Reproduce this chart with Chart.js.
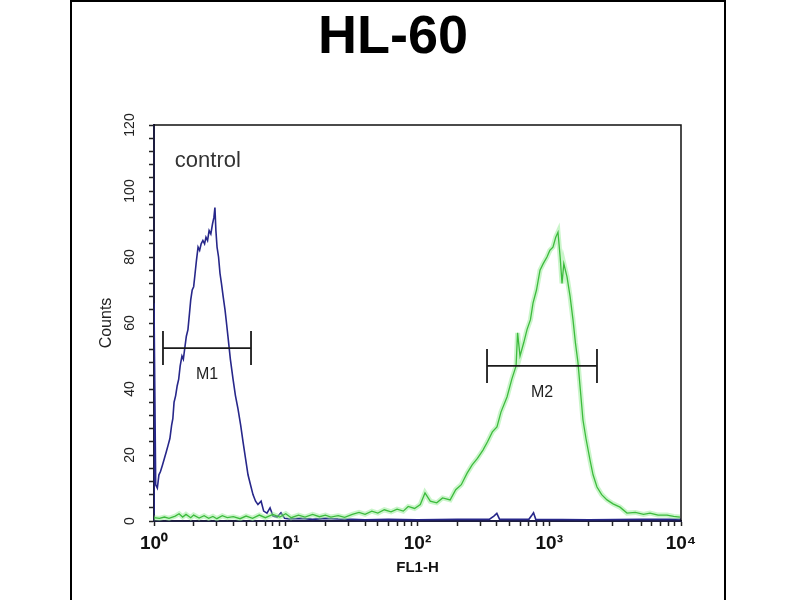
<!DOCTYPE html>
<html>
<head>
<meta charset="utf-8">
<title>HL-60</title>
<script src="https://cdn.jsdelivr.net/npm/chart.js@4.4.1/dist/chart.umd.min.js"></script>
<style>
  html, body { margin: 0; padding: 0; background: #fff; }
  #wrap { position: relative; width: 800px; height: 600px; }
</style>
</head>
<body>
<div id="wrap"><canvas id="hist" width="800" height="600"></canvas></div>
<script>
// control histogram (blue)
const controlX = [
  1, 1, 1.03, 1.06, 1.09, 1.12, 1.16, 1.2, 1.24, 1.28,
  1.32, 1.36, 1.39, 1.42, 1.46, 1.5, 1.54, 1.58, 1.63, 1.67,
  1.72, 1.76, 1.81, 1.86, 1.9, 1.95, 2.0, 2.05, 2.1, 2.16,
  2.22, 2.28, 2.35, 2.42, 2.48, 2.55, 2.62, 2.7, 2.78, 2.85,
  2.9, 2.95, 3.01, 3.09, 3.17, 3.25, 3.35, 3.46, 3.55, 3.64,
  3.8, 3.98, 4.15, 4.34, 4.55, 4.74, 4.95, 5.17, 5.4, 5.64,
  5.9, 6.15, 6.5, 6.8, 7.2, 7.6, 8.0, 8.6, 9.2, 9.8,
  10.7, 13, 16, 20, 25, 32, 40, 60, 100, 200,
  350, 380, 400, 420, 700, 740, 760, 790, 2000, 5000,
  10000
];
const controlY = [
  2, 66, 11, 10, 14, 15, 17, 19, 21, 23,
  25, 29, 31, 36, 38, 41, 43, 47, 50, 49,
  53, 56, 58, 63, 67, 70, 71, 75, 79, 83,
  82, 84, 85, 84, 86, 85, 88, 87, 90, 92,
  95, 88, 83, 80, 75, 72, 68, 64, 60, 56,
  49, 43, 38, 34, 29, 24, 19, 14, 11, 8,
  6, 5, 6, 3, 2.4, 4, 1.5, 1.2, 2.5, 0.8,
  0.6, 0.8, 0.5, 0.8, 0.6, 0.5, 0.4, 0.5, 0.4, 0.5,
  0.5, 1.5, 2.3, 0.5, 0.5, 1.8, 2.5, 0.5, 0.4, 0.5,
  0.5
];

// stained sample histogram (green)
const sampleX = [
  1, 1.1, 1.2, 1.3, 1.45, 1.55, 1.65, 1.75, 1.9, 2.0,
  2.2, 2.4, 2.6, 2.8, 3.0, 3.3, 3.6, 4.0, 4.5, 5.0,
  5.6, 6.3, 7.0, 8.0, 9.0, 10, 11, 12.5, 14, 16,
  18, 20, 22, 25, 28, 32, 36, 40, 45, 50,
  56, 63, 70, 78, 85, 95, 105, 114, 125, 140,
  155, 177, 195, 215, 238, 260, 285, 314, 340, 370,
  401, 430, 478, 520, 560, 575, 600, 640, 678, 720,
  753, 800, 851, 900, 961, 1010, 1067, 1120, 1165, 1210,
  1250, 1290, 1364, 1440, 1514, 1580, 1652, 1720, 1803, 1900,
  2038, 2150, 2303, 2500, 2743, 3050, 3443, 3892, 4500, 5200,
  5817, 6700, 7834, 8800, 9821
];
const sampleY = [
  1, 0.8, 1.2, 0.8, 1.5, 2.2, 1.2, 2.0, 1.0, 1.8,
  0.9, 1.6, 0.8, 1.4, 0.7, 1.6, 1.0, 1.3, 0.7, 1.5,
  0.8, 1.8, 1.0, 2.0, 1.2, 2.2, 1.0, 1.8, 1.2, 2.0,
  1.3, 1.8, 1.2, 1.6, 1.1, 2.0, 2.6, 2.0, 3.0, 2.4,
  3.4, 2.8, 3.6, 3.0, 4.4, 3.8, 5.0, 8.5, 6.0, 5.5,
  7.0, 6.4, 9.5, 11, 14.5, 17, 19, 21.5, 24, 27,
  28.5, 33, 37.6, 43, 47, 57, 50, 54, 58, 61,
  66, 70, 76, 78, 80, 82, 83, 86, 87.5, 80,
  72, 78, 74, 68, 61, 54, 48, 40, 30.6, 25,
  18.5, 14, 10.3, 8, 6.4, 5.2, 4.2, 2.4, 2.6, 2.0,
  2.4, 1.8, 1.8, 1.4, 1.2
];

// gate markers
const markerNames = ["M1", "M2"];
const markerStart = [1.17, 337];
const markerEnd = [5.45, 2303];
const markerLevel = [52.4, 47];

const xTickLabels = ["10⁰", "10¹", "10²", "10³", "10⁴"];
const noteText = "control";

const sans = "'Liberation Sans', Arial, sans-serif";

function zip(xs, ys) {
  return xs.map((x, i) => ({ x: x, y: ys[i] }));
}

// log ticks 1..9 per decade
const xTickValues = [];
for (let d = 0; d < 4; d++) {
  for (let m = 1; m < 10; m++) xTickValues.push(m * Math.pow(10, d));
}
xTickValues.push(10000);

const markerSets = markerNames.map((name, i) => ({
  label: name,
  data: [{ x: markerStart[i], y: markerLevel[i] }, { x: markerEnd[i], y: markerLevel[i] }],
  borderColor: "#1a1a1a",
  borderWidth: 1.6,
  pointStyle: "line",
  rotation: 90,
  pointRadius: 17,
  pointBorderWidth: 1.8,
  pointBorderColor: "#1a1a1a",
  order: 0
}));

const decorations = {
  id: "decorations",
  beforeDraw(chart) {
    const { ctx, width, height } = chart;
    ctx.save();
    ctx.fillStyle = "#fff";
    ctx.fillRect(0, 0, width, height);
    ctx.strokeStyle = "#000";
    ctx.lineWidth = 2;
    ctx.beginPath();
    ctx.moveTo(71, height + 2);
    ctx.lineTo(71, 1);
    ctx.lineTo(725, 1);
    ctx.lineTo(725, height + 2);
    ctx.stroke();
    ctx.restore();
  },
  afterDatasetsDraw(chart) {
    const { ctx, chartArea: a, scales } = chart;
    const x = scales.x, y = scales.y;
    ctx.save();
    // top and right edges of the plot box
    ctx.strokeStyle = "#111";
    ctx.lineWidth = 1.5;
    ctx.beginPath();
    ctx.moveTo(a.left, a.top);
    ctx.lineTo(a.right, a.top);
    ctx.lineTo(a.right, a.bottom);
    ctx.stroke();

    ctx.fillStyle = "#222";
    ctx.textAlign = "center";
    ctx.textBaseline = "middle";
    ctx.font = "16px " + sans;
    markerNames.forEach((name, i) => {
      const mid = Math.sqrt(markerStart[i] * markerEnd[i]);
      ctx.fillText(name, x.getPixelForValue(mid), y.getPixelForValue(markerLevel[i]) + 27);
    });

    ctx.textAlign = "left";
    ctx.font = "22px " + sans;
    ctx.fillStyle = "#333";
    ctx.fillText(noteText, x.getPixelForValue(1.44), y.getPixelForValue(109));
    ctx.restore();
  }
};

new Chart(document.getElementById("hist"), {
  type: "line",
  data: {
    datasets: [
      {
        label: "control",
        data: zip(controlX, controlY),
        borderColor: "#27278a",
        borderWidth: 1.6,
        pointRadius: 0,
        tension: 0,
        order: 3
      },
      {
        label: "sample glow",
        data: zip(sampleX, sampleY),
        borderColor: "rgba(150, 235, 150, 0.5)",
        borderWidth: 5,
        pointRadius: 0,
        tension: 0,
        order: 2
      },
      {
        label: "sample",
        data: zip(sampleX, sampleY),
        borderColor: "#3dbb3d",
        borderWidth: 1.3,
        pointRadius: 0,
        tension: 0,
        order: 1
      },
      ...markerSets
    ]
  },
  options: {
    responsive: false,
    animation: false,
    events: [],
    layout: { padding: { left: 105, right: 119, top: 0, bottom: 0 } },
    plugins: {
      legend: { display: false },
      tooltip: { enabled: false },
      title: {
        display: true,
        text: "HL-60",
        color: "#000",
        font: { family: sans, size: 54, weight: "bold", lineHeight: 1 },
        padding: { top: 11, bottom: 60 }
      }
    },
    scales: {
      x: {
        type: "logarithmic",
        min: 1,
        max: 10000,
        afterFit: (s) => { s.height = 79; },
        afterBuildTicks: (s) => { s.ticks = xTickValues.map((v) => ({ value: v })); },
        border: { color: "#1d1d40", width: 2 },
        grid: { drawOnChartArea: false, tickLength: 5, tickColor: "#222", tickWidth: 1.5 },
        ticks: {
          autoSkip: false,
          maxRotation: 0,
          padding: 6,
          color: "#111",
          font: { family: sans, size: 19, weight: "bold" },
          callback: (v) => {
            const e = Math.log10(v);
            return Math.abs(e - Math.round(e)) < 1e-9 ? xTickLabels[Math.round(e)] : "";
          }
        },
        title: {
          display: true,
          text: "FL1-H",
          color: "#111",
          font: { family: sans, size: 15, weight: "bold", lineHeight: 1 },
          padding: { top: 0, bottom: 25 }
        }
      },
      y: {
        min: 0,
        max: 120,
        afterFit: (s) => { s.width = 49; },
        border: { color: "#1d1d40", width: 2 },
        grid: { drawOnChartArea: false, tickLength: 5, tickColor: "#222", tickWidth: 1.5 },
        ticks: {
          stepSize: 4,
          autoSkip: false,
          minRotation: 90,
          maxRotation: 90,
          crossAlign: "center",
          padding: 7,
          color: "#222",
          font: { family: sans, size: 14 },
          callback: (v) => (v % 20 === 0 ? String(v) : "")
        },
        title: {
          display: true,
          text: "Counts",
          color: "#222",
          font: { family: sans, size: 16, lineHeight: 1 },
          padding: { top: -6, bottom: 0 }
        }
      }
    }
  },
  plugins: [decorations]
});
</script>
</body>
</html>
